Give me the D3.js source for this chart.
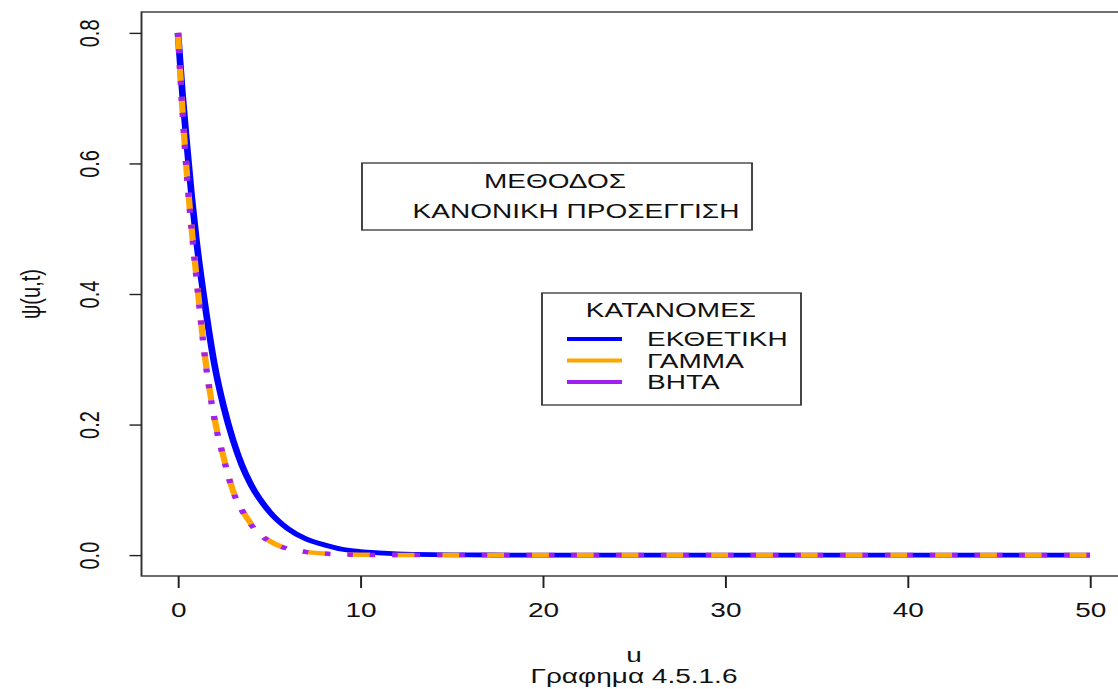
<!DOCTYPE html>
<html>
<head>
<meta charset="utf-8">
<script src="https://cdn.jsdelivr.net/npm/d3@7"></script>
<style>
  body { margin: 0; background: #fff; }
  svg { display: block; }
  text { font-family: "Liberation Sans", Arial, sans-serif; fill: #111; }
</style>
</head>
<body>
<div id="graph"></div>
<script>
// values
var uVals = [0, 0.25, 0.5, 0.75, 1, 1.5, 2, 2.5, 3, 3.5, 4, 5, 6, 7, 8, 9, 10, 11, 12, 13, 14, 16, 20, 30, 40, 50]
var ekthetiki = [0.80, 0.705, 0.625, 0.55, 0.485, 0.38, 0.292, 0.228, 0.178, 0.138, 0.108, 0.067, 0.041, 0.025, 0.016, 0.009, 0.0055, 0.0035, 0.002, 0.0012, 0.0007, 0.0003, 0, 0, 0, 0]
var gamma = [0.80, 0.68, 0.58, 0.50, 0.43, 0.30, 0.21, 0.15, 0.10, 0.07, 0.048, 0.022, 0.010, 0.005, 0.0025, 0.0012, 0.0006, 0.0003, 0.0001, 0, 0, 0, 0, 0, 0, 0]
var vita = [0.80, 0.678, 0.578, 0.498, 0.428, 0.298, 0.208, 0.149, 0.099, 0.069, 0.047, 0.021, 0.010, 0.005, 0.0024, 0.0011, 0.0005, 0.0002, 0.0001, 0, 0, 0, 0, 0, 0, 0]

var xTicks = [0, 10, 20, 30, 40, 50]
var yTicks = [0, 0.2, 0.4, 0.6, 0.8]
var yTickLabels = ['0.0', '0.2', '0.4', '0.6', '0.8']
var legendLabels = ['ΕΚΘΕΤΙΚΗ', 'ΓΑΜΜΑ', 'ΒΗΤΑ']
var legendColors = ['#0000ff', '#ffa500', '#a020f0']

// the picture is stretched sideways, so draw in a narrower box and let the viewBox stretch it
var SX = 1.4
var W = 1118 / SX, H = 689

var svg = d3.select('#graph').append('svg')
  .attr('width', 1118).attr('height', H)
  .attr('viewBox', [0, 0, W, H].join(' '))
  .attr('preserveAspectRatio', 'none')

var x = d3.scaleLinear().domain([-2, 52]).range([141.5 / SX, 1126.5 / SX])
var y = d3.scaleLinear().domain([-0.032, 0.832]).range([576, 12])

var fs = 20

// frame
svg.append('rect')
  .attr('x', x.range()[0]).attr('y', 12)
  .attr('width', x.range()[1] - x.range()[0]).attr('height', 576 - 12)
  .attr('fill', 'none').attr('stroke', '#333').attr('stroke-width', 1.4)

// x axis
var xAxis = svg.append('g')
  .attr('transform', 'translate(0,576)')
  .call(d3.axisBottom(x).tickValues(xTicks).tickSize(12).tickSizeOuter(0).tickPadding(15))
xAxis.select('.domain').remove()
xAxis.selectAll('line').attr('stroke', '#222').attr('stroke-width', 1.4)
xAxis.selectAll('text').attr('font-size', fs).attr('font-family', null).attr('fill', '#111')

// y axis, labels turned like R does
var yAxis = svg.append('g')
  .attr('transform', 'translate(' + x.range()[0] + ',0)')
  .call(d3.axisLeft(y).tickValues(yTicks).tickSize(12 / SX).tickSizeOuter(0).tickFormat((d, i) => yTickLabels[i]))
yAxis.select('.domain').remove()
yAxis.selectAll('line').attr('stroke', '#222').attr('stroke-width', 1.4)
yAxis.selectAll('text')
  .attr('x', null).attr('dy', null)
  .attr('font-size', fs).attr('font-family', null).attr('fill', '#111')
  .attr('text-anchor', 'middle')
  .attr('transform', 'translate(' + (89 / SX - x.range()[0]) + ',0) rotate(-90)')
  .attr('dy', '0.35em')

// curves
var line = d3.line()
  .x((d, i) => x(uVals[i]))
  .y(d => y(d))
  .curve(d3.curveMonotoneX)

svg.append('path').datum(ekthetiki)
  .attr('d', line).attr('fill', 'none')
  .attr('stroke', legendColors[0]).attr('stroke-width', 4.8)

svg.append('path').datum(gamma)
  .attr('d', line).attr('fill', 'none')
  .attr('stroke', legendColors[1]).attr('stroke-width', 4.5)
  .attr('stroke-dasharray', '16 16')

svg.append('path').datum(vita)
  .attr('d', line).attr('fill', 'none')
  .attr('stroke', legendColors[2]).attr('stroke-width', 4.5)
  .attr('stroke-dasharray', '4 12')

// method box
var mbox = svg.append('g')
mbox.append('rect')
  .attr('x', 362 / SX).attr('y', 163).attr('width', (752 - 362) / SX).attr('height', 67)
  .attr('fill', '#fff').attr('stroke', '#333').attr('stroke-width', 1.3)
mbox.append('text').text('ΜΕΘΟΔΟΣ')
  .attr('x', 555 / SX).attr('y', 181).attr('dy', '0.35em')
  .attr('text-anchor', 'middle').attr('font-size', fs)
mbox.append('text').text('ΚΑΝΟΝΙΚΗ ΠΡΟΣΕΓΓΙΣΗ')
  .attr('x', 576 / SX).attr('y', 211).attr('dy', '0.35em')
  .attr('text-anchor', 'middle').attr('font-size', fs)

// legend
var leg = svg.append('g')
leg.append('rect')
  .attr('x', 542 / SX).attr('y', 293).attr('width', (801 - 542) / SX).attr('height', 112)
  .attr('fill', '#fff').attr('stroke', '#333').attr('stroke-width', 1.3)
leg.append('text').text('ΚΑΤΑΝΟΜΕΣ')
  .attr('x', 671 / SX).attr('y', 310).attr('dy', '0.35em')
  .attr('text-anchor', 'middle').attr('font-size', fs)

var rows = leg.selectAll('g.row').data(legendLabels).enter().append('g')
  .attr('class', 'row')
  .attr('transform', (d, i) => 'translate(0,' + (339 + i * 21.5) + ')')
rows.append('line')
  .attr('x1', 567 / SX).attr('x2', 622 / SX)
  .attr('stroke', (d, i) => legendColors[i]).attr('stroke-width', 4)
rows.append('text').text(d => d)
  .attr('x', 647 / SX).attr('dy', '0.35em').attr('font-size', fs)

// axis titles
svg.append('text').text('u')
  .attr('x', (x.range()[0] + x.range()[1]) / 2).attr('y', 655).attr('dy', '0.35em')
  .attr('text-anchor', 'middle').attr('font-size', fs)
svg.append('text').text('Γραφημα 4.5.1.6')
  .attr('x', (x.range()[0] + x.range()[1]) / 2).attr('y', 676).attr('dy', '0.35em')
  .attr('text-anchor', 'middle').attr('font-size', fs)
svg.append('text').text('ψ(u,t)')
  .attr('transform', 'translate(' + (30 / SX) + ',294) rotate(-90)')
  .attr('dy', '0.35em').attr('text-anchor', 'middle').attr('font-size', fs)
</script>
</body>
</html>
